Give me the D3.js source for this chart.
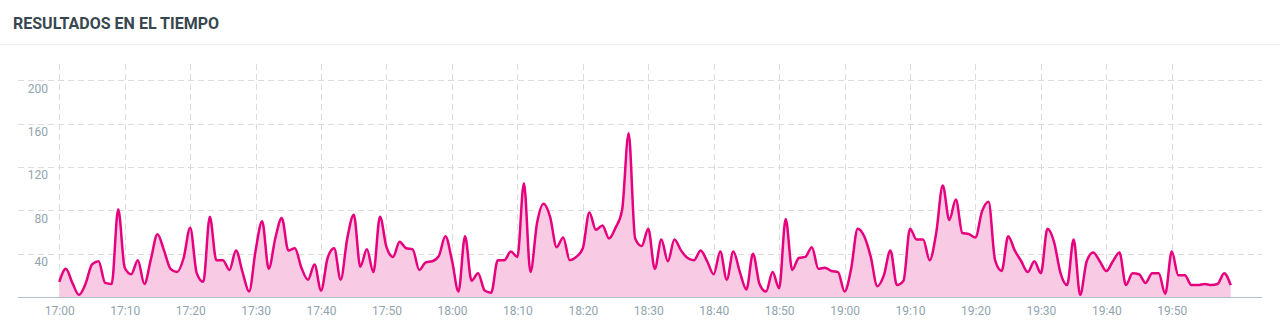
<!DOCTYPE html>
<html>
<head>
<meta charset="utf-8">
<script src="https://cdn.jsdelivr.net/npm/d3@7"></script>
<style>
  html, body { margin: 0; padding: 0; background: #fff; }
  svg { display: block; font-family: Roboto, "Noto Sans", sans-serif; }
</style>
</head>
<body>
<svg id="chart" width="1280" height="333"></svg>
<script>
const title = "RESULTADOS EN EL TIEMPO";
const startTime = "17:00";
// one value per minute, 17:00 .. 19:59
const values = [
  14,26,13,2,12,30,33,13,12,81,
  27,21,34,12,35,58,43,26,23,36,
  64,22,14,74,34,34,25,43,23,5,
  43,70,26,54,73,43,45,27,16,30,
  6,36,45,16,54,76,28,44,23,74,
  46,37,51,45,44,25,32,33,38,56,
  34,5,56,15,22,6,4,34,34,42,
  37,105,23,68,86,74,46,55,34,37,
  45,78,62,66,54,64,80,151,54,47,
  63,26,53,33,53,43,36,34,43,33,
  21,42,16,42,23,7,40,12,5,23,
  8,72,25,36,37,46,26,27,24,23,
  5,26,63,56,37,10,20,43,11,15,
  63,53,53,34,59,103,71,90,59,58,
  55,79,88,34,24,56,43,33,23,33,
  22,63,51,22,11,53,2,33,41,33,
  24,33,41,11,22,21,13,22,22,3,
  42,20,20,11,11,12,11,12,22,11
];
const yTicks = [40, 80, 120, 160, 200];
const yMax = 215;

const svg = d3.select("#chart");
const W = 1280;

// header
svg.append("text").attr("x", 13).attr("y", 29)
  .attr("font-size", 16).attr("font-weight", 700).attr("fill", "#37474f")
  .text(title);
svg.append("line").attr("x1", 0).attr("x2", W).attr("y1", 44.5).attr("y2", 44.5)
  .attr("stroke", "#eceff1").attr("stroke-width", 1);

const parse = d3.timeParse("%H:%M");
const t0 = parse(startTime);
const data = values.map((v, i) => ({ t: d3.timeMinute.offset(t0, i), v }));

const gridLeft = 18, gridRight = 1262;
const x = d3.scaleTime()
  .domain([t0, data[data.length - 1].t])
  .range([59.3, 59.3 + 6.544 * (values.length - 1)]);
const y = d3.scaleLinear().domain([0, yMax]).range([297, 64]);

const xTicks = x.ticks(d3.timeMinute.every(10));

// horizontal grid
svg.append("g").selectAll("line").data(yTicks).join("line")
  .attr("x1", gridLeft).attr("x2", gridRight)
  .attr("y1", d => Math.round(y(d)) + 0.5).attr("y2", d => Math.round(y(d)) + 0.5)
  .attr("stroke", "#dcdcdc").attr("stroke-dasharray", "6,4");

// vertical grid
svg.append("g").selectAll("line").data(xTicks).join("line")
  .attr("x1", d => Math.round(x(d)) + 0.5).attr("x2", d => Math.round(x(d)) + 0.5)
  .attr("y1", y(yMax)).attr("y2", y(0))
  .attr("stroke", "#dcdcdc").attr("stroke-dasharray", "6,4");

// y labels
svg.append("g").selectAll("text").data(yTicks).join("text")
  .attr("x", 48).attr("y", d => y(d) + 12.5)
  .attr("text-anchor", "end").attr("font-size", 12).attr("fill", "#90a4ae")
  .text(d => d);

// area + line
const area = d3.area().x(d => x(d.t)).y0(y(0)).y1(d => y(d.v)).curve(d3.curveMonotoneX);
const line = d3.line().x(d => x(d.t)).y(d => y(d.v)).curve(d3.curveMonotoneX);
svg.append("path").datum(data).attr("d", area).attr("fill", "#f9cae3");
svg.append("path").datum(data).attr("d", line)
  .attr("fill", "none").attr("stroke", "#e6007e").attr("stroke-width", 2.5)
  .attr("stroke-linejoin", "round");

// x axis
const xAxis = d3.axisBottom(x).tickValues(xTicks).tickFormat(d3.timeFormat("%H:%M"))
  .tickSize(0).tickPadding(9);
const gx = svg.append("g").attr("transform", `translate(0,${y(0)})`).call(xAxis);
gx.select(".domain").remove();
gx.selectAll("text").attr("font-size", 12).attr("fill", "#90a4ae")
  .attr("font-family", "Roboto, sans-serif");
svg.append("line").attr("x1", gridLeft).attr("x2", gridRight)
  .attr("y1", y(0) + 0.5).attr("y2", y(0) + 0.5)
  .attr("stroke", "#b0bec5").attr("stroke-width", 1.2);
</script>
</body>
</html>
